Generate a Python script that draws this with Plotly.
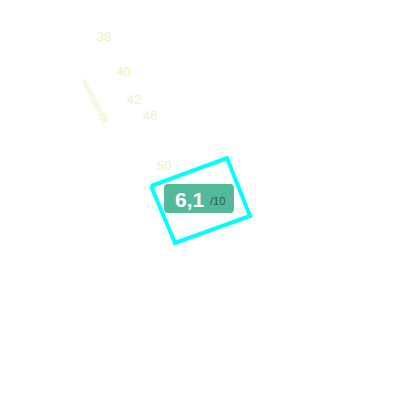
import plotly.graph_objects as go

# house numbers along the street, in map pixel coordinates
house_numbers = ["38", "40", "42", "46", "50"]
house_x = [104, 123, 134, 150, 164]
house_y = [38, 73, 101, 117, 167]

street_name = "Hoenderdijk"
street_x = [95]
street_y = [101]

# selected parcel outline
parcel_x = [151, 227, 250, 175, 151]
parcel_y = [186, 158, 216, 243, 186]

score = 6.1
score_max = 10

fig = go.Figure()

fig.add_trace(go.Scatter(
    x=parcel_x, y=parcel_y, mode="lines",
    line=dict(color="#00ffff", width=4),
    hoverinfo="skip",
))

fig.add_trace(go.Scatter(
    x=house_x, y=house_y, mode="text", text=house_numbers,
    textfont=dict(family="Liberation Sans", size=13, color="#e6f5b8"),
    hoverinfo="skip",
))

# rounded label box
x0, x1, y0, y1, r = 164, 234, 184, 213, 4
path = (f"M {x0+r},{y0} L {x1-r},{y0} Q {x1},{y0} {x1},{y0+r} "
        f"L {x1},{y1-r} Q {x1},{y1} {x1-r},{y1} L {x0+r},{y1} "
        f"Q {x0},{y1} {x0},{y1-r} L {x0},{y0+r} Q {x0},{y0} {x0+r},{y0} Z")
fig.add_shape(type="path", path=path, fillcolor="#52b99b", line=dict(width=0))

fig.add_annotation(
    x=207, y=199, xref="x", yref="y", showarrow=False, xanchor="right",
    text=f"<b>{score:.1f}</b>".replace(".", ","),
    font=dict(family="Liberation Sans", size=21, color="white"),
)
fig.add_annotation(
    x=208, y=201, xref="x", yref="y", showarrow=False, xanchor="left",
    text=f"/{score_max}",
    font=dict(family="Liberation Sans", size=11, color="#2b5348"),
)

fig.add_annotation(
    x=street_x[0], y=street_y[0], xref="x", yref="y", showarrow=False,
    text=street_name, textangle=62,
    font=dict(family="Liberation Sans", size=9, color="#e6f5b8"),
)

# the page has an 8px body margin, so shift the view to line up with pixels
fig.update_layout(
    width=400, height=400,
    margin=dict(l=0, r=0, t=0, b=0),
    paper_bgcolor="white", plot_bgcolor="white",
    showlegend=False,
    xaxis=dict(range=[8, 408], visible=False, fixedrange=True),
    yaxis=dict(range=[408, 8], visible=False, fixedrange=True),
)

fig.write_html("out.html")
